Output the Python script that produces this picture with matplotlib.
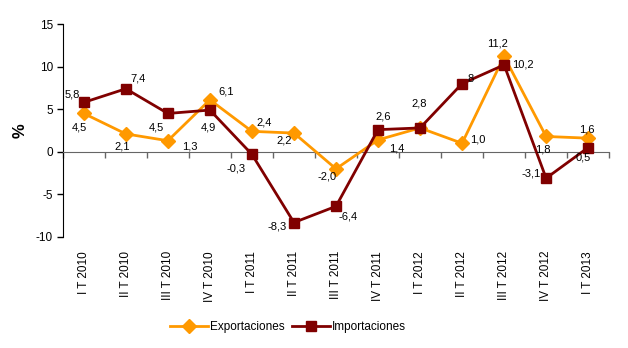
import matplotlib
matplotlib.use("Agg")
import matplotlib.pyplot as plt
import numpy as np

plt.rcParams["font.family"] = ["Liberation Sans", "DejaVu Sans"]
plt.rcParams["axes.unicode_minus"] = False

quarters = ["I T 2010", "II T 2010", "III T 2010", "IV T 2010",
            "I T 2011", "II T 2011", "III T 2011", "IV T 2011",
            "I T 2012", "II T 2012", "III T 2012", "IV T 2012", "I T 2013"]
exportaciones = [4.5, 2.1, 1.3, 6.1, 2.4, 2.2, -2.0, 1.4, 2.8, 1.0, 11.2, 1.8, 1.6]
importaciones = [5.8, 7.4, 4.5, 4.9, -0.3, -8.3, -6.4, 2.6, 2.8, 8.0, 10.2, -3.1, 0.5]

# label offsets in pixels (dx, dy), hand-placed to avoid the lines
exp_off = [(-4, -14), (-4, -13), (22, -6), (16, 8), (12, 9), (-10, -7), (-9, -8),
           (19, -9), (-1, 24), (16, 4), (-7, 13), (-3, -13), (-1, 9)]
imp_off = [(-12, 8), (12, 10), (-11, -14), (-2, -17), (-16, -14), (-17, -4), (12, -10),
           (5, 13), (-1, 24), (9, 5), (19, 0), (-15, 5), (-5, -10)]

C_EXP = "#FF9900"
C_IMP = "#800000"

fig = plt.figure(figsize=(6.28, 3.48), dpi=100)
ax = fig.add_axes([0.100, 0.319, 0.870, 0.612])

x = np.arange(len(quarters))
ax.plot(x, exportaciones, "-D", color=C_EXP, lw=2, ms=7, label="Exportaciones", zorder=3)
ax.plot(x, importaciones, "-s", color=C_IMP, lw=2, ms=7.5, label="Importaciones", zorder=4)

for xi, v, w, (dx, dy) in zip(x, exportaciones, importaciones, exp_off):
    if v == w:
        continue  # same value, same spot: the import label already shows it
    ax.annotate(f"{v:.1f}".replace(".", ","), (xi, v), xytext=(dx, dy),
                textcoords="offset pixels", ha="center", va="center", fontsize=8, zorder=5)
for xi, v, (dx, dy) in zip(x, importaciones, imp_off):
    ax.annotate(f"{v:g}".replace(".", ","), (xi, v), xytext=(dx, dy),
                textcoords="offset pixels", ha="center", va="center", fontsize=8, zorder=5)

ax.set_xlim(-0.5, len(quarters) - 0.5)
ax.set_ylim(-10, 15)
ax.set_yticks([-10, -5, 0, 5, 10, 15])
ax.tick_params(axis="y", direction="out", length=4, width=1, labelsize=8.5, pad=3)

# zero line carries the category boundary ticks
ax.spines["bottom"].set_position(("data", 0))
ax.spines["top"].set_visible(False)
ax.spines["right"].set_visible(False)
ax.spines["left"].set_color("black")
ax.spines["bottom"].set_color("#666666")
ax.set_xticks(np.arange(len(quarters) + 1) - 0.5)
ax.tick_params(axis="x", direction="out", length=4, width=1, color="#666666", labelbottom=False)

# category labels sit under the plot area
sec = ax.secondary_xaxis(0)
sec.set_xticks(x, labels=quarters, rotation=90, fontsize=8.5)
sec.tick_params(length=0, pad=10)
sec.spines["bottom"].set_visible(False)

ax.set_ylabel("%", fontsize=12, fontweight="bold", labelpad=6)

fig.legend(loc="center", bbox_to_anchor=(288 / 628, 21 / 348), ncol=2, frameon=False,
           fontsize=8.5, handlelength=3.2, handletextpad=0.2, columnspacing=0.6)

fig.savefig("out.png", dpi=100)
